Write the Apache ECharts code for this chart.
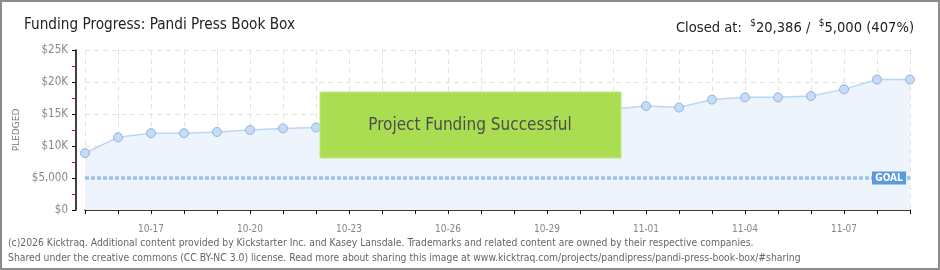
<!DOCTYPE html>
<html>
<head>
<meta charset="utf-8">
<script src="https://cdn.jsdelivr.net/npm/echarts@6/dist/echarts.min.js"></script>
<style>
html,body{margin:0;padding:0;background:#fff;}
#c{width:940px;height:270px;}
</style>
</head>
<body>
<div id="c"></div>
<script>
const categories = ['10-15','10-16','10-17','10-18','10-19','10-20','10-21','10-22','10-23','10-24','10-25','10-26','10-27','10-28','10-29','10-30','10-31','11-01','11-02','11-03','11-04','11-05','11-06','11-07','11-08','11-09'];
const pledged = [8900,11350,12000,12000,12200,12500,12750,12900,13300,13800,14300,14600,14600,14200,14200,15500,15800,16250,16000,17250,17600,17600,17800,18850,20386,20386];
const goal = 5000;
const yTicks = [0,5000,10000,15000,20000,25000];
const yTickLabels = ['$0','$5,000','$10K','$15K','$20K','$25K'];
const titleText = 'Funding Progress: Pandi Press Book Box';
const footer1 = '(c)2026 Kicktraq. Additional content provided by Kickstarter Inc. and Kasey Lansdale. Trademarks and related content are owned by their respective companies.';
const footer2 = 'Shared under the creative commons (CC BY-NC 3.0) license. Read more about sharing this image at www.kicktraq.com/projects/pandipress/pandi-press-book-box/#sharing';

const FONT = 'DejaVu Sans Condensed';
const chart = echarts.init(document.getElementById('c'), null, {renderer:'canvas'});
chart.setOption({
  animation:false,
  backgroundColor:'#fff',
  title:[
    {text:titleText,left:19,top:13,textStyle:{fontFamily:FONT,fontWeight:'normal',fontSize:15.2,color:'#222'}},
    {text:'{n|Closed at:  }{s|$}{n|20,386 /  }{s|$}{n|5,000 (407%)}',right:21,top:13,
     textStyle:{rich:{
       n:{fontFamily:FONT,fontWeight:'normal',fontSize:14.6,color:'#222',lineHeight:18,verticalAlign:'bottom'},
       s:{fontFamily:FONT,fontWeight:'normal',fontSize:10,color:'#222',lineHeight:18,verticalAlign:'top',padding:[0,0,6,0]}
     }}}
  ],
  grid:{left:85,right:30,top:50,bottom:60,containLabel:false},
  xAxis:{
    type:'category',data:categories,boundaryGap:false,offset:10,
    axisLine:{lineStyle:{color:'#000',width:1.5}},
    axisTick:{show:true,interval:0,length:4,lineStyle:{color:'#000'}},
    axisLabel:{interval:(i)=>i%3===2,color:'#888',fontSize:10,fontFamily:FONT,margin:4},
    splitLine:{show:true,interval:0,lineStyle:{color:'#e2e2e2',type:[5,4]}}
  },
  yAxis:{
    type:'value',min:0,max:25000,interval:5000,offset:9,
    name:'PLEDGED',nameLocation:'middle',nameRotate:90,nameGap:52,
    nameTextStyle:{color:'#777',fontSize:9,fontFamily:'DejaVu Sans'},
    axisLine:{show:true,lineStyle:{color:'#000',width:1.5}},
    axisTick:{show:true,length:4,lineStyle:{color:'#000'}},
    minorTick:{show:true,splitNumber:2,length:4,lineStyle:{color:'#e00'}},
    axisLabel:{color:'#888',fontSize:11.5,fontFamily:FONT,margin:8,
      formatter:(v)=>yTickLabels[yTicks.indexOf(v)]},
    splitLine:{show:true,lineStyle:{color:'#e2e2e2',type:[5,4]}}
  },
  series:[{
    type:'line',data:pledged,
    symbol:'circle',symbolSize:9,showAllSymbol:true,
    lineStyle:{color:'#b9d6f4',width:1.5},
    itemStyle:{color:'#c4dcf7',borderColor:'#95b4d8',borderWidth:1},
    areaStyle:{color:'#edf4fc',opacity:1},
    markLine:{
      silent:true,symbol:'none',
      label:{show:false},
      lineStyle:{color:'#9cc0e8',width:3.5,type:[4,2],opacity:1},
      data:[{yAxis:goal}]
    },
    markPoint:{
      silent:true,
      data:[{coord:[categories[categories.length-1],goal]}],
      symbol:'rect',symbolSize:[34,13],symbolOffset:[-21,0],
      itemStyle:{color:'#5a9be0'},
      label:{show:true,formatter:'GOAL',color:'#fff',fontSize:10,fontFamily:FONT,fontWeight:'bold'}
    }
  }],
  graphic:[
    {type:'rect',z:100,shape:{x:320,y:92,width:301,height:66},
     style:{fill:'#aadd52',stroke:'#c0e882',lineWidth:1}},
    {type:'text',z:101,x:470,y:126,
     style:{text:'Project Funding Successful',fill:'#4d4d4d',font:'17px "DejaVu Sans Condensed"',
       align:'center',verticalAlign:'middle',textShadowColor:'#fff',textShadowOffsetX:1,textShadowOffsetY:1,textShadowBlur:0}},
    {type:'text',z:50,x:8,y:238,style:{text:footer1,fill:'#666',font:'10.3px "DejaVu Sans Condensed"'}},
    {type:'text',z:50,x:8,y:253,style:{text:footer2,fill:'#666',font:'10.3px "DejaVu Sans Condensed"'}},
    {type:'rect',z:200,shape:{x:1,y:1,width:938,height:268},style:{fill:'none',stroke:'#8c8c8c',lineWidth:2}}
  ]
});
</script>
</body>
</html>
